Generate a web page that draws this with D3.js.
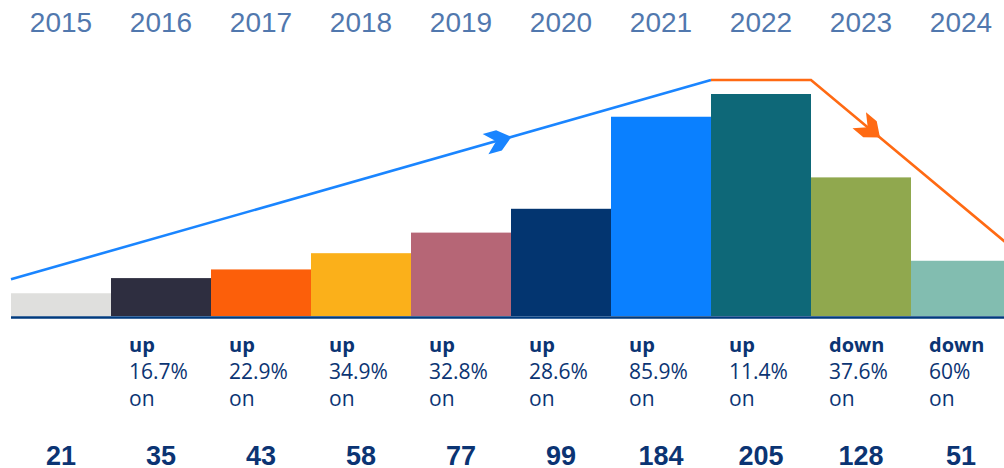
<!DOCTYPE html>
<html>
<head>
<meta charset="utf-8">
<script src="https://cdn.jsdelivr.net/npm/d3@7"></script>
<style>
  body { margin: 0; background: #fff; overflow: hidden; }
</style>
</head>
<body>
<script>
'use strict';

// chart data
const years = ['2015', '2016', '2017', '2018', '2019', '2020', '2021', '2022', '2023', '2024'];
const counts = [21, 35, 43, 58, 77, 99, 184, 205, 128, 51];
const directions = ['', 'up', 'up', 'up', 'up', 'up', 'up', 'up', 'down', 'down'];
const changes = ['', '16.7%', '22.9%', '34.9%', '32.8%', '28.6%', '85.9%', '11.4%', '37.6%', '60%'];
const barColors = ['#dfdfdd', '#2e2e40', '#fc5f0a', '#fbb01a', '#b66676',
                   '#033570', '#0a80ff', '#0e6878', '#90a84e', '#82bdb0'];

// trend arrows: [year, edge of bar (0 left, 1 right), value]
const riseTrend = [['2015', 0, 21], ['2022', 0, 205]];
const fallTrend = [['2022', 0, 205], ['2022', 1, 205], ['2024', 1, 51]];

const width = 1004;
const height = 468;
const navy = '#0b3473';

const svg = d3.select('body')
  .append('svg')
  .attr('width', width)
  .attr('height', height);

// scales
const x = d3.scaleBand()
  .domain(years)
  .range([11, 1011])
  .padding(0);

const y = d3.scaleLinear()
  .domain([0, 205])
  .range([316, 94]);

// bars
svg.selectAll('.bar')
  .data(years)
  .enter()
  .append('rect')
  .attr('class', 'bar')
  .attr('x', d => x(d))
  .attr('y', (d, i) => y(counts[i]))
  .attr('width', x.bandwidth())
  .attr('height', (d, i) => y(0) - y(counts[i]))
  .attr('fill', (d, i) => barColors[i]);

// baseline
svg.append('line')
  .attr('x1', x.range()[0])
  .attr('x2', width)
  .attr('y1', y(0) + 1.5)
  .attr('y2', y(0) + 1.5)
  .attr('stroke', '#003a7d')
  .attr('stroke-width', 2.6);

// year labels along the top (thin, light face in the original)
svg.selectAll('.year')
  .data(years)
  .enter()
  .append('text')
  .attr('class', 'year')
  .attr('x', d => x(d) + x.bandwidth() / 2)
  .attr('y', 32)
  .attr('text-anchor', 'middle')
  .style('font-family', '"Liberation Sans Narrow", "Liberation Sans", sans-serif')
  .style('font-size', '28px')
  .style('fill', '#5178ae')
  .text(d => d);

// trend lines sit a little above the bar tops
const lift = 14;
const trendLine = d3.line()
  .x(d => x(d[0]) + d[1] * x.bandwidth())
  .y(d => y(d[2]) - lift);

function drawTrend(points, colour, at) {
  svg.append('path')
    .datum(points)
    .attr('d', trendLine)
    .attr('fill', 'none')
    .attr('stroke', colour)
    .attr('stroke-width', 2.6)
    .attr('stroke-linejoin', 'miter');

  // arrowhead on the last segment
  const a = points[points.length - 2];
  const b = points[points.length - 1];
  const x0 = x(a[0]) + a[1] * x.bandwidth();
  const y0 = y(a[2]) - lift;
  const x1 = x(b[0]) + b[1] * x.bandwidth();
  const y1 = y(b[2]) - lift;
  const tx = x0 + (x1 - x0) * at;
  const ty = y0 + (y1 - y0) * at;
  const angle = Math.atan2(y1 - y0, x1 - x0) * 180 / Math.PI;

  svg.append('path')
    .attr('d', 'M0,0 L-13,-10.5 L-27,-10.5 L-16,0 L-27,10.5 L-13,10.5 Z')
    .attr('transform', 'translate(' + tx + ',' + ty + ')rotate(' + angle + ')')
    .attr('fill', colour);
}

drawTrend(riseTrend, '#1a85ff', 0.715);
drawTrend(fallTrend, '#ff6a13', 0.345);

// change labels under the bars
const notes = svg.selectAll('.note')
  .data(years.filter((d, i) => directions[i] !== ''))
  .enter()
  .append('g')
  .attr('class', 'note')
  .attr('transform', d => 'translate(' + (x(d) + 18) + ',0)')
  .style('font-family', '"Open Sans", sans-serif')
  .style('fill', navy);

notes.append('text')
  .attr('y', 352)
  .style('font-size', '20px')
  .style('font-weight', 'bold')
  .text(d => directions[years.indexOf(d)]);

notes.append('text')
  .attr('y', 378.5)
  .style('font-size', '21px')
  .style('font-weight', 500)
  .text(d => changes[years.indexOf(d)]);

notes.append('text')
  .attr('y', 405.5)
  .style('font-size', '21px')
  .style('font-weight', 500)
  .text('on');

// yearly counts along the bottom
svg.selectAll('.count')
  .data(years)
  .enter()
  .append('text')
  .attr('class', 'count')
  .attr('x', d => x(d) + x.bandwidth() / 2)
  .attr('y', 465)
  .attr('text-anchor', 'middle')
  .style('font-family', '"Liberation Sans Narrow", "Liberation Sans", sans-serif')
  .style('font-weight', 'bold')
  .style('font-size', '27px')
  .style('fill', navy)
  .text((d, i) => counts[i]);
</script>
</body>
</html>
